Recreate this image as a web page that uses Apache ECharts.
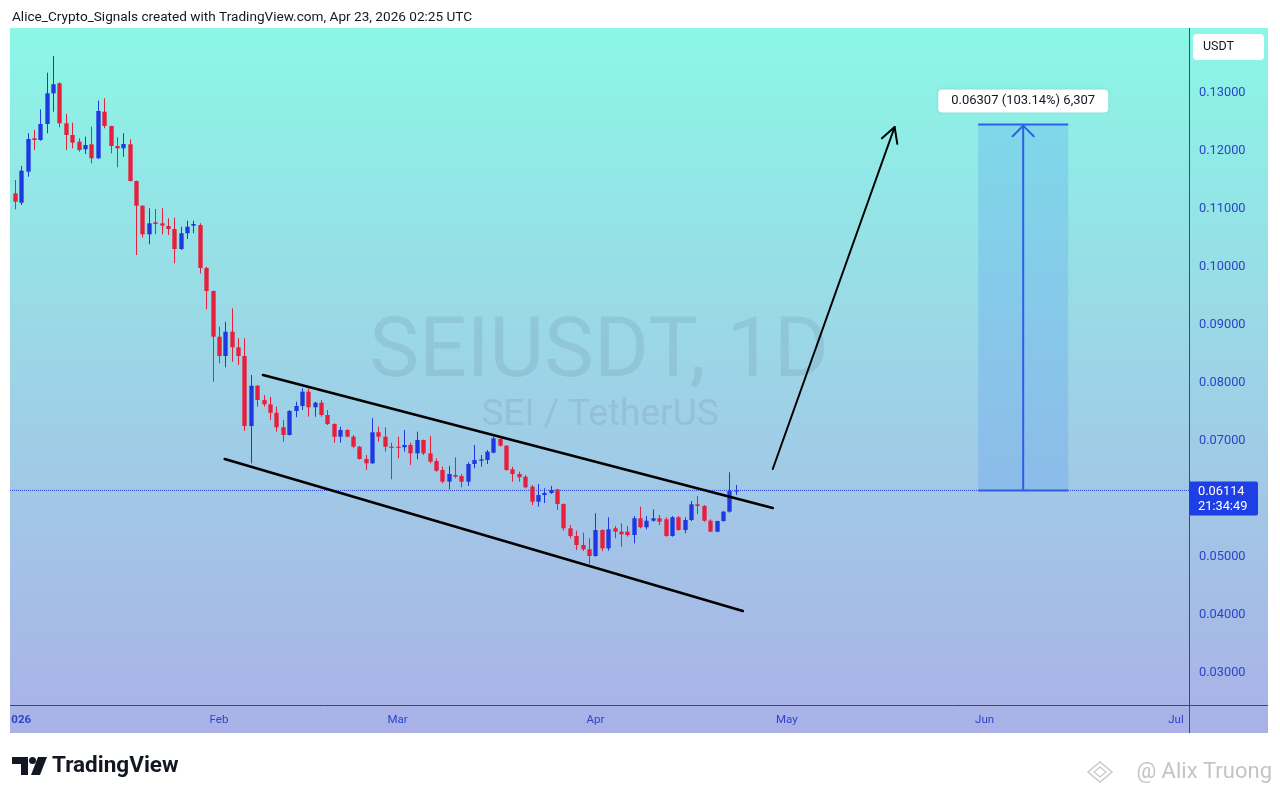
<!DOCTYPE html>
<html>
<head>
<meta charset="utf-8">
<script src="https://cdn.jsdelivr.net/npm/echarts@6/dist/echarts.min.js"></script>
<style>
html,body{margin:0;padding:0;background:#fff;}
#chart{width:1280px;height:797px;}
</style>
</head>
<body>
<div id="chart"></div>
<script>
// ---- DATA ----
const startDate = '2025-12-31'; // first daily candle (day index 0)
const opens  = [0.11236,0.11074,0.11609,0.12185,0.12155,0.12431,0.12960,0.13133,0.12443,0.12241,0.12126,0.11995,0.12081,0.11840,0.12643,0.12397,0.12052,0.12012,0.12081,0.11448,0.11022,0.10529,0.10736,0.10719,0.10672,0.10621,0.10276,0.10547,0.10678,0.10690,0.09948,0.09552,0.08764,0.08431,0.08850,0.08581,0.08431,0.07224,0.07919,0.07672,0.07598,0.07453,0.07202,0.07069,0.07483,0.07569,0.07816,0.07547,0.07626,0.07414,0.07259,0.07040,0.07155,0.07040,0.06867,0.06655,0.06581,0.07116,0.07040,0.06867,0.06867,0.06857,0.06897,0.06753,0.06983,0.06753,0.06620,0.06466,0.06264,0.06379,0.06362,0.06264,0.06569,0.06626,0.06638,0.06764,0.07000,0.06885,0.06478,0.06397,0.06350,0.06178,0.05919,0.06034,0.06069,0.06130,0.05879,0.05460,0.05328,0.05172,0.05098,0.04983,0.05431,0.05115,0.05460,0.05402,0.05402,0.05345,0.05633,0.05478,0.05591,0.05633,0.05616,0.05328,0.05650,0.05431,0.05603,0.05874,0.05845,0.05591,0.05402,0.05586,0.05747,0.06103];
const highs  = [0.11466,0.11707,0.12271,0.12328,0.12684,0.13316,0.13603,0.13150,0.12603,0.12453,0.12185,0.12212,0.12384,0.12833,0.12874,0.12400,0.12202,0.12271,0.12167,0.11455,0.11030,0.10978,0.10966,0.10978,0.10805,0.10816,0.10660,0.10764,0.10764,0.10720,0.09971,0.09560,0.08936,0.09022,0.09253,0.08736,0.08736,0.08103,0.07930,0.07759,0.07729,0.07557,0.07328,0.07500,0.07643,0.07874,0.07874,0.07643,0.07672,0.07500,0.07270,0.07212,0.07170,0.07069,0.06880,0.06724,0.07357,0.07212,0.07202,0.06936,0.07040,0.07155,0.06936,0.07126,0.06990,0.07052,0.06667,0.06522,0.06534,0.06684,0.06397,0.06598,0.06897,0.06724,0.06810,0.07040,0.07040,0.06890,0.06522,0.06436,0.06379,0.06207,0.06224,0.06150,0.06190,0.06140,0.05890,0.05517,0.05419,0.05385,0.05288,0.05719,0.05443,0.05650,0.05500,0.05547,0.05500,0.05672,0.05833,0.05672,0.05788,0.05690,0.05650,0.05672,0.05672,0.05650,0.05931,0.06017,0.05862,0.05615,0.05590,0.05759,0.06426,0.06207];
const lows   = [0.10960,0.11035,0.11522,0.11983,0.12143,0.12271,0.12643,0.12374,0.11983,0.12012,0.11953,0.11914,0.11753,0.11830,0.12357,0.11926,0.11685,0.11867,0.11440,0.10172,0.10471,0.10357,0.10529,0.10529,0.10517,0.10029,0.10259,0.10448,0.10547,0.09853,0.09236,0.07988,0.08305,0.08236,0.08333,0.08276,0.07143,0.06581,0.07557,0.07557,0.07328,0.07126,0.06953,0.07060,0.07374,0.07500,0.07384,0.07384,0.07384,0.07241,0.06936,0.06936,0.07030,0.06840,0.06645,0.06466,0.06570,0.06953,0.06781,0.06305,0.06667,0.06781,0.06552,0.06650,0.06724,0.06581,0.06436,0.06236,0.06133,0.06322,0.06167,0.06190,0.06495,0.06522,0.06569,0.06753,0.06867,0.06453,0.06264,0.06264,0.06150,0.05862,0.05833,0.05897,0.06052,0.05776,0.05419,0.05288,0.05086,0.05069,0.04845,0.04970,0.05069,0.05074,0.05288,0.05143,0.05316,0.05202,0.05460,0.05443,0.05574,0.05517,0.05316,0.05316,0.05419,0.05374,0.05586,0.05707,0.05574,0.05395,0.05395,0.05574,0.05730,0.06034];
const closes = [0.11091,0.11626,0.12172,0.12155,0.12431,0.12960,0.13116,0.12443,0.12241,0.12109,0.11983,0.12069,0.11840,0.12655,0.12397,0.12052,0.12012,0.12086,0.11448,0.11022,0.10529,0.10719,0.10707,0.10678,0.10621,0.10276,0.10547,0.10660,0.10707,0.09948,0.09552,0.08764,0.08431,0.08850,0.08581,0.08431,0.07224,0.07919,0.07672,0.07598,0.07453,0.07202,0.07069,0.07483,0.07569,0.07816,0.07547,0.07626,0.07414,0.07259,0.07040,0.07155,0.07040,0.06867,0.06655,0.06581,0.07116,0.07040,0.06867,0.06857,0.06857,0.06897,0.06753,0.06983,0.06753,0.06609,0.06453,0.06264,0.06397,0.06350,0.06264,0.06569,0.06638,0.06650,0.06781,0.07012,0.06885,0.06466,0.06397,0.06340,0.06167,0.05919,0.06034,0.06069,0.06121,0.05879,0.05460,0.05328,0.05172,0.05098,0.04983,0.05431,0.05115,0.05443,0.05402,0.05357,0.05345,0.05633,0.05478,0.05591,0.05633,0.05574,0.05328,0.05650,0.05431,0.05603,0.05874,0.05845,0.05591,0.05402,0.05586,0.05747,0.06103,0.06114];

const priceTicks = [0.03,0.04,0.05,0.06,0.07,0.08,0.09,0.10,0.11,0.12,0.13];
const monthTicks = [1,32,60,91,121,152,182];          // day index of month starts
const monthLabels = ['026','Feb','Mar','Apr','May','Jun','Jul'];

// drawings (day index, price)
const channelUpper = [[38.9,0.08103],[118.8,0.05810]];
const channelLower = [[32.9,0.06655],[114.1,0.04034]];
const forecastArrow = [[118.8,0.06483],[137.9,0.12379]];
const projection = {x0:151.0, x1:165.1, from:0.06114, to:0.12421, label:'0.06307 (103.14%) 6,307'};
const lastTime = '21:34:49';

// ---- BUILD ----
const RED = '#e6203c', BLUE = '#1f39e0', AXIS = '#2b45c9';
const FONT = 'Roboto, "Noto Sans", "DejaVu Sans", sans-serif';
const candleData = opens.map((o,i)=>[i,o,closes[i],lows[i],highs[i]]);
const lastClose = closes[closes.length-1];
const X_MIN = -0.752, X_MAX = 184.04;

const chart = echarts.init(document.getElementById('chart'));

function candleRender(params, api){
  const x = api.value(0), o = api.value(1), c = api.value(2), l = api.value(3), h = api.value(4);
  const pO = api.coord([x,o]), pC = api.coord([x,c]), pL = api.coord([x,l]), pH = api.coord([x,h]);
  const w = api.size([1,0])[0]*0.68;
  const color = c >= o ? BLUE : RED;
  const cx = Math.round(pO[0]) + 0.5;
  const top = Math.min(pO[1],pC[1]);
  const hgt = Math.max(Math.abs(pO[1]-pC[1]),1.2);
  return {type:'group', children:[
    {type:'line', shape:{x1:cx,y1:pH[1],x2:cx,y2:pL[1]}, style:{stroke:color,lineWidth:1}},
    {type:'rect', shape:{x:cx-w/2, y:top, width:w, height:hgt}, style:{fill:color}}
  ]};
}

function chevron(tip, from, len, spread, color, width){
  const ang = Math.atan2(from[1]-tip[1], from[0]-tip[0]);
  const a1 = ang + spread, a2 = ang - spread;
  return {type:'polyline', shape:{points:[
    [tip[0]+len*Math.cos(a1), tip[1]+len*Math.sin(a1)], tip,
    [tip[0]+len*Math.cos(a2), tip[1]+len*Math.sin(a2)]]},
    style:{stroke:color, lineWidth:width, fill:null, lineCap:'round', lineJoin:'round'}};
}

function drawingsRender(params, api){
  const u0 = api.coord(channelUpper[0]), u1 = api.coord(channelUpper[1]);
  const d0 = api.coord(channelLower[0]), d1 = api.coord(channelLower[1]);
  const a0 = api.coord(forecastArrow[0]), a1 = api.coord(forecastArrow[1]);
  const pTL = api.coord([projection.x0, projection.to]);
  const pBR = api.coord([projection.x1, projection.from]);
  const midX = api.coord([(projection.x0+projection.x1)/2, projection.to])[0];
  const PB = '#2f5ee8';
  return {type:'group', children:[
    {type:'line', shape:{x1:u0[0],y1:u0[1],x2:u1[0],y2:u1[1]}, style:{stroke:'#000',lineWidth:2.6,lineCap:'round'}},
    {type:'line', shape:{x1:d0[0],y1:d0[1],x2:d1[0],y2:d1[1]}, style:{stroke:'#000',lineWidth:2.6,lineCap:'round'}},
    {type:'line', shape:{x1:a0[0],y1:a0[1],x2:a1[0],y2:a1[1]}, style:{stroke:'#000',lineWidth:2,lineCap:'round'}},
    chevron(a1, a0, 17, 0.5, '#000', 2),
    {type:'rect', shape:{x:pTL[0], y:pTL[1], width:pBR[0]-pTL[0], height:pBR[1]-pTL[1]}, style:{fill:'rgba(70,140,245,0.22)'}},
    {type:'line', shape:{x1:pTL[0],y1:pTL[1],x2:pBR[0],y2:pTL[1]}, style:{stroke:PB,lineWidth:2}},
    {type:'line', shape:{x1:pTL[0],y1:pBR[1],x2:pBR[0],y2:pBR[1]}, style:{stroke:PB,lineWidth:2}},
    {type:'line', shape:{x1:midX,y1:pBR[1],x2:midX,y2:pTL[1]+1}, style:{stroke:PB,lineWidth:2}},
    chevron([midX,pTL[1]+1], [midX,pBR[1]], 15, 0.78, PB, 2),
    {type:'rect', shape:{x:midX-85, y:pTL[1]-35, width:170, height:23, r:4},
      style:{fill:'#fff', shadowBlur:3, shadowColor:'rgba(0,0,0,0.12)'}},
    {type:'text', x:midX, y:pTL[1]-23.5, style:{text:projection.label, fill:'#131722', font:'13px '+FONT, align:'center', verticalAlign:'middle'}}
  ]};
}

const option = {
  animation:false,
  grid:{left:10, right:91, top:28, bottom:92},
  xAxis:{type:'value', min:X_MIN, max:X_MAX,
    axisLine:{show:false}, axisTick:{show:false}, splitLine:{show:false},
    axisLabel:{customValues:monthTicks, margin:9, fontSize:11.5, color:AXIS, fontFamily:FONT,
      formatter:(v)=>{const i=monthTicks.indexOf(Math.round(v)); return i===0?'{b|'+monthLabels[0]+'}':(i>0?monthLabels[i]:'');},
      rich:{b:{fontWeight:'bold', fontSize:11.5, color:AXIS, fontFamily:FONT}}}},
  yAxis:{type:'value', position:'right', min:0.13-(705-91)/5800, max:0.13+(91-28)/5800,
    axisLine:{show:false}, axisTick:{show:false}, splitLine:{show:false},
    axisLabel:{customValues:priceTicks, margin:10, color:AXIS, fontFamily:FONT, align:'left',
      formatter:(v)=>'{p|'+v.toFixed(5)+'}',
      rich:{p:{fontSize:12.8, color:AXIS, fontFamily:FONT, padding:[4,0,0,0]}}}},
  graphic:[
    {type:'rect', z:-100, shape:{x:10,y:28,width:1258,height:705},
      style:{fill:new echarts.graphic.LinearGradient(0,0,0,1,[{offset:0,color:'#8bf7e6'},{offset:0.5,color:'#9dd3e6'},{offset:1,color:'#aab1e7'}])}},
    {type:'text', z:-50, x:599, y:355, style:{text:'SEIUSDT, 1D', fill:'rgba(90,105,135,0.15)', font:'84px '+FONT, align:'center', verticalAlign:'middle'}},
    {type:'text', z:-50, x:600, y:416, style:{text:'SEI / TetherUS', fill:'rgba(90,105,135,0.15)', font:'37px '+FONT, align:'center', verticalAlign:'middle'}},
    {type:'line', z:5, shape:{x1:1189.5,y1:28,x2:1189.5,y2:733}, style:{stroke:'#2b3fd0',lineWidth:1}},
    {type:'line', z:5, shape:{x1:10,y1:705.5,x2:1268,y2:705.5}, style:{stroke:'#2b3fd0',lineWidth:1}},
    {type:'rect', z:6, shape:{x:1193,y:34,width:71,height:26,r:4}, style:{fill:'#fff'}},
    {type:'text', z:7, x:1203, y:47, style:{text:'USDT', fill:'#131722', font:'12.5px '+FONT, verticalAlign:'middle'}},
    {type:'text', x:12, y:18, style:{text:'Alice_Crypto_Signals created with TradingView.com, Apr 23, 2026 02:25 UTC', fill:'#131722', font:'13.6px '+FONT, verticalAlign:'middle'}},
    // TradingView logo
    {type:'polygon', shape:{points:[[12,757],[28,757],[28,775],[21,775],[21,764],[12,764]]}, style:{fill:'#131722'}},
    {type:'circle', shape:{cx:32.5,cy:760.5,r:3.5}, style:{fill:'#131722'}},
    {type:'polygon', shape:{points:[[38,757],[47,757],[40,775],[31,775]]}, style:{fill:'#131722'}},
    {type:'text', x:52, y:766, style:{text:'TradingView', fill:'#131722', font:'bold 22.5px '+FONT, verticalAlign:'middle'}},
    // author watermark
    {type:'polygon', shape:{points:[[1100,762],[1112,772],[1100,782],[1088,772]]}, style:{stroke:'#c9c9c9', fill:null, lineWidth:1.5}},
    {type:'polygon', shape:{points:[[1100,767],[1106,772],[1100,777],[1094,772]]}, style:{stroke:'#c9c9c9', fill:null, lineWidth:1.2}},
    {type:'text', x:1272, y:772, style:{text:'@ Alix Truong', fill:'#c4c4c4', font:'22px '+FONT, align:'right', verticalAlign:'middle'}}
  ],
  series:[
    {type:'line', name:'last', data:[[X_MIN,lastClose],[X_MAX,lastClose]], symbol:'none', silent:true, z:2,
      lineStyle:{color:'#2540d8', type:'dotted', width:1}},
    {type:'custom', name:'SEIUSDT', renderItem:candleRender, data:candleData, clip:true,
      encode:{x:0, y:[1,2,3,4]}, z:3},
    {type:'custom', name:'drawings', renderItem:drawingsRender, data:[[0]], clip:true, z:4}
  ]
};
chart.setOption(option);

// price tag on the axis, placed from the axis scale
const yLast = chart.convertToPixel({yAxisIndex:0}, lastClose);
const axisX = chart.convertToPixel({xAxisIndex:0}, X_MAX);
chart.setOption({graphic: option.graphic.concat([
  {type:'rect', z:8, shape:{x:axisX, y:yLast-9, width:69, height:34, r:[0,2,2,0]}, style:{fill:'#1f3fe6'}},
  {type:'text', z:9, x:axisX+9, y:yLast+1, style:{text:lastClose.toFixed(5), fill:'#fff', font:'12.8px '+FONT, verticalAlign:'middle'}},
  {type:'text', z:9, x:axisX+9, y:yLast+16, style:{text:lastTime, fill:'#fff', font:'12.8px '+FONT, verticalAlign:'middle'}}
])});
</script>
</body>
</html>
